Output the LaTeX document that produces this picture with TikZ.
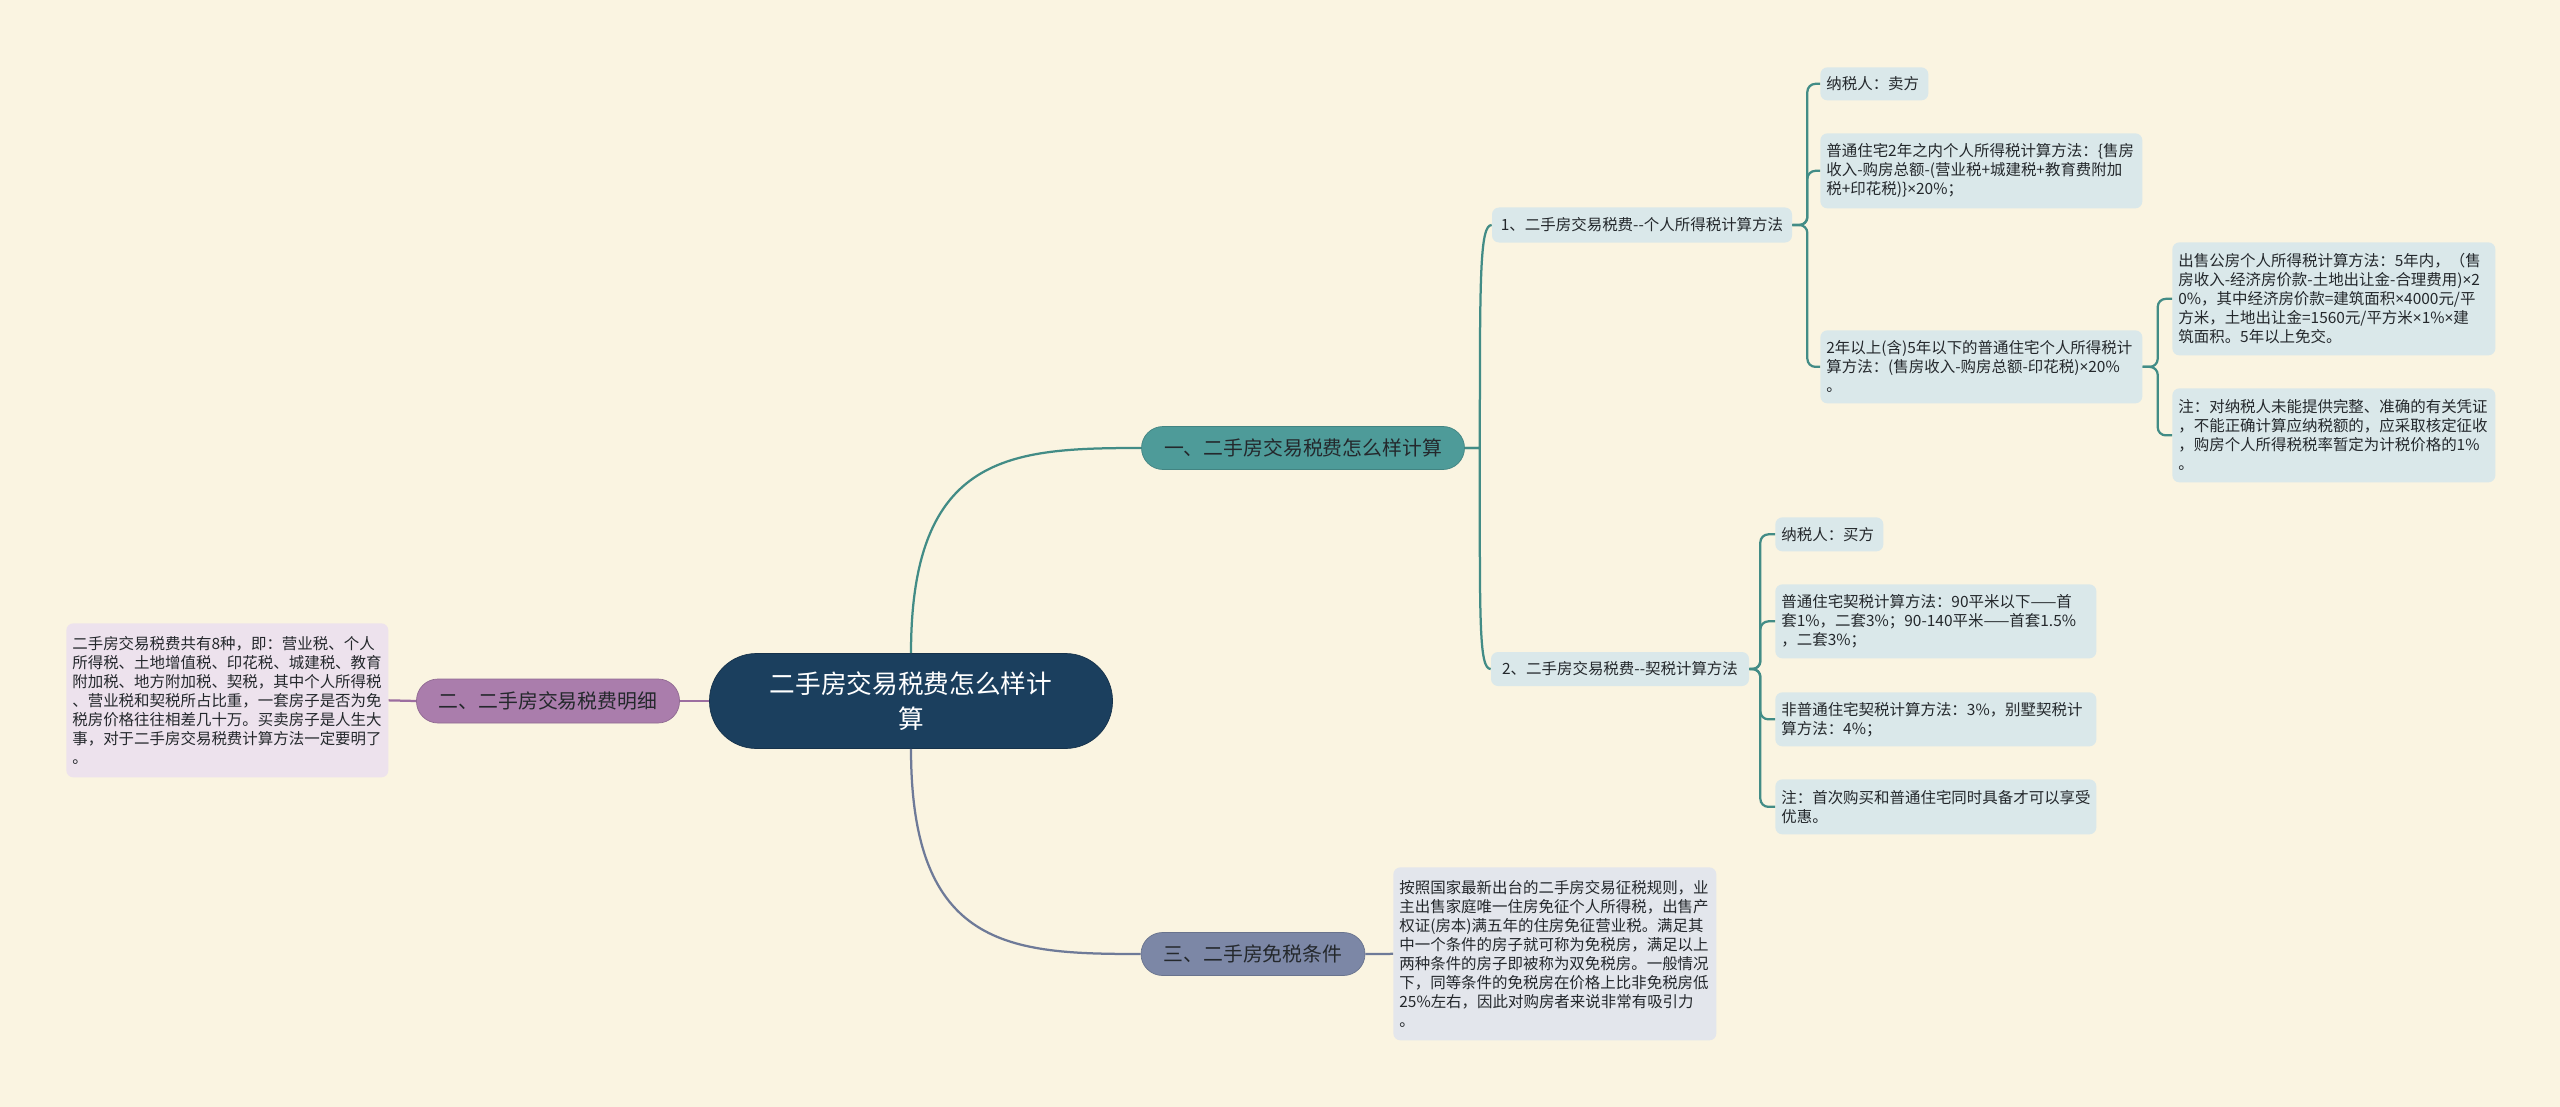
\documentclass[tikz,border=0pt]{standalone}
\usepackage{fontspec}
\setmainfont{Noto Sans CJK SC}
\newfontfamily\latinface{Noto Sans}
\newcommand{\mul}{{\latinface ×}}
\definecolor{paper}{RGB}{250,244,225}
\definecolor{rootfill}{RGB}{27,63,94}
\definecolor{tealfill}{RGB}{78,155,153}
\definecolor{tealline}{RGB}{66,140,134}
\definecolor{plumfill}{RGB}{170,125,172}
\definecolor{plumline}{RGB}{156,110,160}
\definecolor{slatefill}{RGB}{124,135,166}
\definecolor{slateline}{RGB}{110,122,152}
\definecolor{iceleaf}{RGB}{218,232,234}
\definecolor{plumleaf}{RGB}{237,226,237}
\definecolor{slateleaf}{RGB}{227,230,236}
\definecolor{ink}{RGB}{36,40,44}
\tikzset{
  rootnode/.style={fill=rootfill, draw=rootfill!80!black, rounded corners=9.4mm,
              minimum width=80.6mm, minimum height=19mm, align=center, text=white,
              font=\fontsize{14.6pt}{20pt}\selectfont},
  topic/.style={rounded corners=4.3mm, minimum height=8.6mm, text=ink,
              font=\fontsize{11.3pt}{13pt}\selectfont},
  branch/.style={fill=iceleaf, rounded corners=1.4mm, minimum height=7mm, text=ink,
              font=\fontsize{8.8pt}{10.8pt}\selectfont},
  leaf/.style={rounded corners=1.4mm, anchor=north west, align=left, inner xsep=1.2mm,
              inner ysep=0pt, text=ink, font=\fontsize{8.8pt}{10.8pt}\selectfont},
  link/.style={line width=0.45mm},
  elbow/.style={line width=0.45mm, rounded corners=1.6mm},
}
\begin{document}
\begin{tikzpicture}[x=0.2mm, y=-0.2mm]
  \fill[paper] (0,0) rectangle (2560,1107);
  % centre and main topics
  \node[rootnode] (root) at (911,701) {二手房交易税费怎么样计\\算};
  \node[topic, fill=tealfill, draw=tealfill!85!black, minimum width=64.6mm] (t1) at (1303,448) {一、二手房交易税费怎么样计算};
  \node[topic, fill=plumfill, draw=plumfill!85!black, minimum width=52.6mm, minimum height=8.8mm] (t2) at (548,701) {二、二手房交易税费明细};
  \node[topic, fill=slatefill, draw=slatefill!85!black, minimum width=44.8mm] (t3) at (1253,954) {三、二手房免税条件};
  \draw[link, tealline] (root.north) .. controls +(0,-200) and +(-130,0) .. (t1.west);
  \draw[link, plumline] (root.west) -- (t2.east);
  \draw[link, slateline] (root.south) .. controls +(0,200) and +(-130,0) .. (t3.west);

  % part one
  \node[branch, minimum width=60mm] (s1) at (1642,225) {1、二手房交易税费-{}-个人所得税计算方法};
  \node[branch, minimum width=51.6mm, minimum height=6.8mm] (s2) at (1620,669) {2、二手房交易税费-{}-契税计算方法};
  \draw[link, tealline] (t1.east) -- ++(15,0) .. controls +(0,-170) and +(-12,0) .. (s1.west);
  \draw[link, tealline] (t1.east) -- ++(15,0) .. controls +(0,170) and +(-12,0) .. (s2.west);

  \node[leaf, fill=iceleaf, text width=19.2mm, minimum height=6.6mm] (a1) at (1820,67) {纳税人：卖方};
  \node[leaf, fill=iceleaf, text width=62mm, minimum height=15mm] (a2) at (1820,133)
    {普通住宅2年之内个人所得税计算方法：\{售房\\收入-购房总额-(营业税+城建税+教育费附加\\税+印花税)\}\mul{}20\%；};
  \node[leaf, fill=iceleaf, text width=62mm, minimum height=14.6mm] (a3) at (1820,330)
    {2年以上(含)5年以下的普通住宅个人所得税计\\算方法：(售房收入-购房总额-印花税)\mul{}20\%\\。};
  \draw[elbow, tealline] (s1.east) -- ++(15,0) |- (a1.west);
  \draw[elbow, tealline] (s1.east) -- ++(15,0) |- (a2.west);
  \draw[elbow, tealline] (s1.east) -- ++(15,0) |- (a3.west);

  \node[leaf, fill=iceleaf, text width=62.2mm, minimum height=22.6mm] (b1) at (2172,242)
    {出售公房个人所得税计算方法：5年内，（售\\房收入-经济房价款-土地出让金-合理费用)\mul{}2\\0\%，其中经济房价款=建筑面积\mul{}4000元/平\\方米，土地出让金=1560元/平方米\mul{}1\%\mul{}建\\筑面积。5年以上免交。};
  \node[leaf, fill=iceleaf, text width=62.2mm, minimum height=18.8mm] (b2) at (2172,388)
    {注：对纳税人未能提供完整、准确的有关凭证\\，不能正确计算应纳税额的，应采取核定征收\\，购房个人所得税税率暂定为计税价格的1\%\\。};
  \draw[elbow, tealline] (a3.east) -- ++(15,0) |- (b1.west);
  \draw[elbow, tealline] (a3.east) -- ++(15,0) |- (b2.west);

  \node[leaf, fill=iceleaf, text width=19.2mm, minimum height=6.8mm] (c1) at (1775,517) {纳税人：买方};
  \node[leaf, fill=iceleaf, text width=61.8mm, minimum height=14.8mm] (c2) at (1775,584)
    {普通住宅契税计算方法：90平米以下——首\\套1\%，二套3\%；90-140平米——首套1.5\%\\，二套3\%；};
  \node[leaf, fill=iceleaf, text width=61.8mm, minimum height=10.8mm] (c3) at (1775,692)
    {非普通住宅契税计算方法：3\%，别墅契税计\\算方法：4\%；};
  \node[leaf, fill=iceleaf, text width=61.8mm, minimum height=11mm] (c4) at (1775,779)
    {注：首次购买和普通住宅同时具备才可以享受\\优惠。};
  \draw[elbow, tealline] (s2.east) -- ++(11,0) |- (c1.west);
  \draw[elbow, tealline] (s2.east) -- ++(11,0) |- (c2.west);
  \draw[elbow, tealline] (s2.east) -- ++(11,0) |- (c3.west);
  \draw[elbow, tealline] (s2.east) -- ++(11,0) |- (c4.west);

  % part two
  \node[leaf, fill=plumleaf, text width=62mm, minimum height=30.8mm] (d2) at (66,623)
    {二手房交易税费共有8种，即：营业税、个人\\所得税、土地增值税、印花税、城建税、教育\\附加税、地方附加税、契税，其中个人所得税\\、营业税和契税所占比重，一套房子是否为免\\税房价格往往相差几十万。买卖房子是人生大\\事，对于二手房交易税费计算方法一定要明了\\。};
  \draw[link, plumline] (t2.west) -- (d2.east);

  % part three
  \node[leaf, fill=slateleaf, text width=62.2mm, minimum height=34.6mm] (d3) at (1393,867)
    {按照国家最新出台的二手房交易征税规则，业\\主出售家庭唯一住房免征个人所得税，出售产\\权证(房本)满五年的住房免征营业税。满足其\\中一个条件的房子就可称为免税房，满足以上\\两种条件的房子即被称为双免税房。一般情况\\下，同等条件的免税房在价格上比非免税房低\\25\%左右，因此对购房者来说非常有吸引力\\。};
  \draw[link, slateline] (t3.east) -- (d3.west);
\end{tikzpicture}
\end{document}
